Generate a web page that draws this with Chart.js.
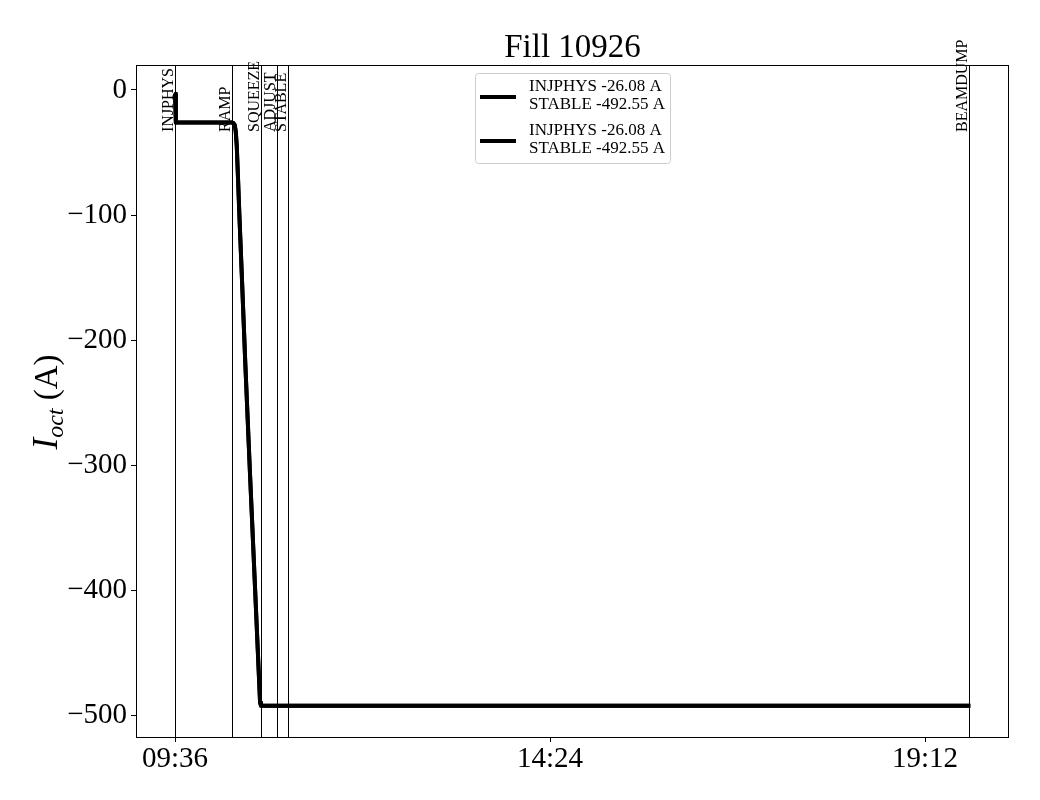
<!DOCTYPE html>
<html>
<head>
<meta charset="utf-8">
<script src="https://cdn.jsdelivr.net/npm/chart.js@4/dist/chart.umd.min.js"></script>
<style>
  body { margin: 0; background: #fff; }
  #wrap { width: 1040px; height: 800px; }
</style>
</head>
<body>
<div id="wrap"><canvas id="fill_chart" width="1040" height="800"></canvas></div>
<script>
// time in minutes since midnight, current in A
var times = [576, 576.6, 619.8, 620.8, 621.8, 622.6, 623.4, 624.4, 625.4, 626.8, 630, 633.6, 637.5, 641.3, 642, 1186.8];
var currents = [-3, -26.08, -26.08, -26.5, -28, -33, -45, -72, -100, -136, -220, -308, -400, -490, -492.55, -492.55];

var modeNames = ['INJPHYS', 'RAMP', 'SQUEEZE', 'ADJUST', 'STABLE', 'BEAMDUMP'];
var modeTimes = [576, 620, 642, 654, 663, 1186];

var xTicks = [576, 864, 1152];
var yTicks = [0, -100, -200, -300, -400, -500];
var legendLines = [['INJPHYS -26.08 A', 'STABLE -492.55 A'], ['INJPHYS -26.08 A', 'STABLE -492.55 A']];

var serif = '"Liberation Serif", "DejaVu Serif", serif';

function hhmm(v) {
    var h = Math.floor(v / 60), m = Math.round(v % 60);
    return (h < 10 ? '0' : '') + h + ':' + (m < 10 ? '0' : '') + m;
}

var points = times.map(function (t, i) { return { x: t, y: currents[i] }; });

var decorPlugin = {
    id: 'decor',
    afterDatasetsDraw: function (chart) {
        var ctx = chart.ctx, area = chart.chartArea;
        var xs = chart.scales.x;
        ctx.save();
        // mode lines + labels
        ctx.strokeStyle = '#000';
        ctx.lineWidth = 1;
        ctx.fillStyle = '#000';
        ctx.font = '16px ' + serif;
        for (var i = 0; i < modeNames.length; i++) {
            var px = Math.round(xs.getPixelForValue(modeTimes[i])) + 0.5;
            ctx.beginPath();
            ctx.moveTo(px, area.top);
            ctx.lineTo(px, area.bottom);
            ctx.stroke();
            ctx.save();
            ctx.translate(px - 3, 132);
            ctx.rotate(-Math.PI / 2);
            ctx.textAlign = 'left';
            ctx.textBaseline = 'alphabetic';
            ctx.fillText(modeNames[i], 0, 0);
            ctx.restore();
        }
        // frame
        ctx.lineWidth = 1;
        ctx.strokeRect(area.left + 0.5, area.top + 0.5, area.right - area.left - 1, area.bottom - area.top);
        // title
        ctx.font = '33px ' + serif;
        ctx.textAlign = 'center';
        ctx.textBaseline = 'alphabetic';
        ctx.fillText('Fill 10926', (area.left + area.right) / 2, 57);
        // y label
        ctx.save();
        ctx.translate(57, 402);
        ctx.rotate(-Math.PI / 2);
        var f1 = 'italic 35px ' + serif, f2 = 'italic 24px ' + serif, f3 = '33px ' + serif;
        ctx.font = f1; var w1 = ctx.measureText('I').width;
        ctx.font = f2; var w2 = ctx.measureText('oct').width;
        ctx.font = f3; var w3 = ctx.measureText(' (A)').width;
        var x0 = -(w1 + w2 + w3) / 2;
        ctx.textAlign = 'left';
        ctx.font = f1; ctx.fillText('I', x0, 0);
        ctx.font = f2; ctx.fillText('oct', x0 + w1, 6);
        ctx.font = f3; ctx.fillText(' (A)', x0 + w1 + w2, 0);
        ctx.restore();
        // legend
        var lx = 475.5, ly = 73.5, lw = 195, lh = 90;
        ctx.fillStyle = 'rgba(255,255,255,0.8)';
        ctx.strokeStyle = '#cccccc';
        ctx.lineWidth = 1;
        ctx.beginPath();
        ctx.roundRect(lx, ly, lw, lh, 3);
        ctx.fill();
        ctx.stroke();
        ctx.fillStyle = '#000';
        ctx.strokeStyle = '#000';
        ctx.lineWidth = 4;
        ctx.font = '17px ' + serif;
        ctx.textAlign = 'left';
        ctx.textBaseline = 'middle';
        for (var j = 0; j < legendLines.length; j++) {
            var cy = 97 + j * 44;
            ctx.beginPath();
            ctx.moveTo(480, cy);
            ctx.lineTo(516, cy);
            ctx.stroke();
            ctx.fillText(legendLines[j][0], 529, cy - 10);
            ctx.fillText(legendLines[j][1], 529, cy + 8);
        }
        ctx.restore();
    }
};

new Chart(document.getElementById('fill_chart'), {
    type: 'line',
    data: {
        datasets: [
            { label: legendLines[0].join('\n'), data: points, borderColor: '#000', borderWidth: 4, borderJoinStyle: 'round', pointRadius: 0, tension: 0 },
            { label: legendLines[1].join('\n'), data: points, borderColor: '#000', borderWidth: 4, borderJoinStyle: 'round', pointRadius: 0, tension: 0 }
        ]
    },
    options: {
        responsive: false,
        animation: false,
        devicePixelRatio: 1,
        layout: { padding: { top: 65, right: 31, left: 0, bottom: 0 } },
        plugins: { legend: { display: false }, tooltip: { enabled: false } },
        scales: {
            x: {
                type: 'linear',
                min: 546,
                max: 1216.5,
                afterBuildTicks: function (s) { s.ticks = xTicks.map(function (v) { return { value: v }; }); },
                afterFit: function (s) { s.height = 63; },
                grid: { display: true, drawOnChartArea: false, drawTicks: true, tickLength: 5, tickColor: '#000', color: '#000' },
                border: { display: false },
                ticks: { color: '#000', font: { family: serif, size: 29 }, maxRotation: 0, padding: 0, callback: function (v) { return hhmm(v); } }
            },
            y: {
                min: -517.6,
                max: 20,
                afterBuildTicks: function (s) { s.ticks = yTicks.map(function (v) { return { value: v }; }); },
                afterFit: function (s) { s.width = 136; },
                grid: { display: true, drawOnChartArea: false, drawTicks: true, tickLength: 5, tickColor: '#000', color: '#000' },
                border: { display: false },
                ticks: { color: '#000', font: { family: serif, size: 29 }, padding: 4, callback: function (v) { return v < 0 ? '\u2212' + Math.abs(v) : String(v); } }
            }
        }
    },
    plugins: [decorPlugin]
});
</script>
</body>
</html>
